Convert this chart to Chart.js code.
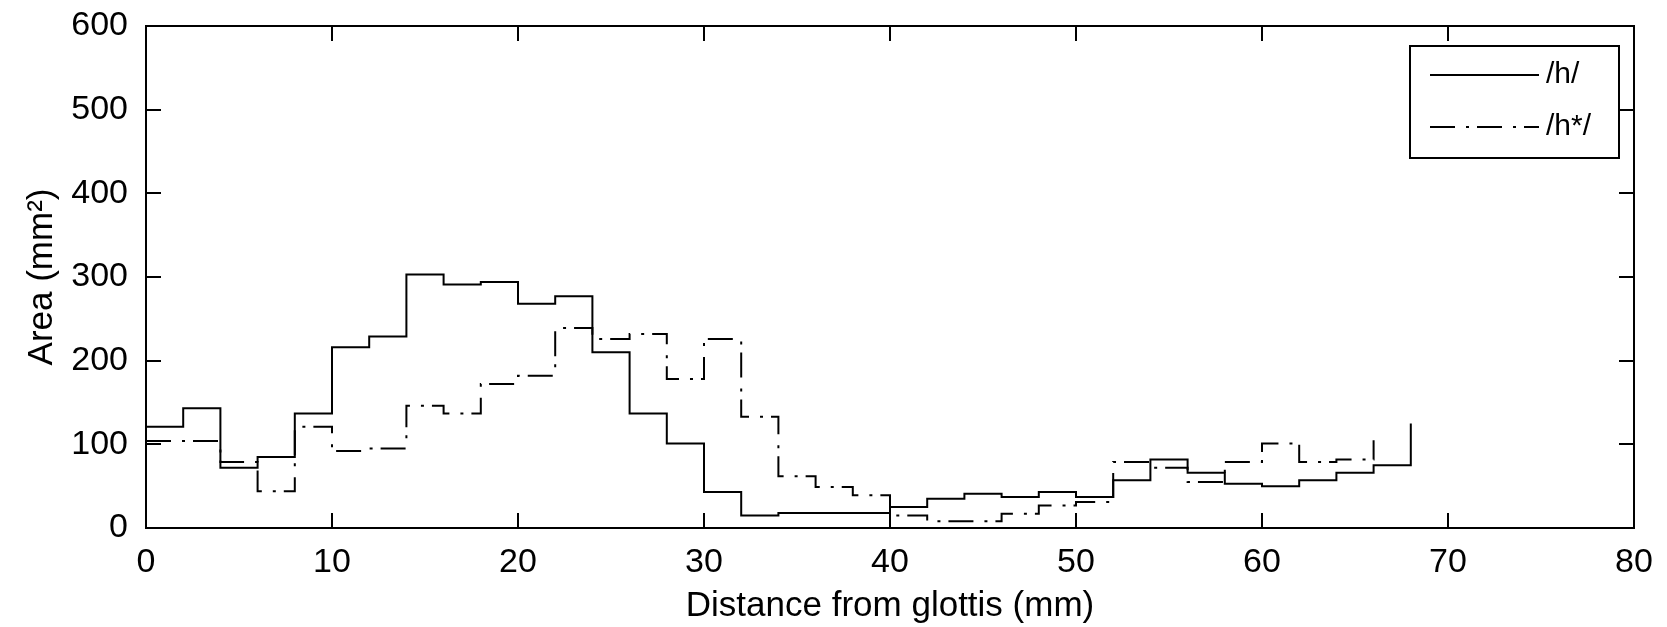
<!DOCTYPE html>
<html>
<head>
<meta charset="utf-8">
<script src="https://cdn.jsdelivr.net/npm/chart.js@4.4.0/dist/chart.umd.min.js"></script>
<style>
  html, body { margin: 0; padding: 0; background: #fff; }
</style>
</head>
<body>
<canvas id="areaChart" width="1667" height="627"></canvas>
<script>
// cross-sectional area along the tract, one value per 2 mm section
const distH = [0, 2, 4, 6, 8, 10, 12, 14, 16, 18, 20, 22, 24, 26, 28, 30, 32, 34,
               36, 38, 40, 42, 44, 46, 48, 50, 52, 54, 56, 58, 60, 62, 64, 66, 68];
const areaH = [121, 143, 72, 85, 137, 216, 229, 303, 291, 294, 268, 277, 210, 137, 101, 43, 15, 18,
               18, 18, 25, 35, 41, 37, 43, 37, 57, 82, 66, 53, 50, 57, 66, 75, 125];

const distHStar = [0, 2, 4, 6, 8, 10, 12, 14, 16, 18, 20, 22, 24, 26, 28, 30, 32, 34,
                   36, 38, 40, 42, 44, 46, 48, 50, 52, 54, 56, 58, 60, 62, 64, 66];
const areaHStar = [104, 104, 79, 44, 121, 92, 95, 146, 137, 172, 182, 239, 226, 232, 178, 226, 133, 62,
                   49, 39, 15, 8, 8, 17, 27, 31, 79, 72, 55, 79, 101, 79, 82, 105];

const xTicks = [0, 10, 20, 30, 40, 50, 60, 70, 80];
const yTicks = [0, 100, 200, 300, 400, 500, 600];

const FONT = '"Liberation Sans", Arial, sans-serif';
const dashDot = [25, 11, 3, 8];

function toPoints(xs, ys) {
  return xs.map((x, i) => ({ x: x, y: ys[i] }));
}

// matlab-style box with inward ticks on all four sides, plus the legend
const framePlugin = {
  id: 'frame',
  afterDraw(chart) {
    const { ctx, chartArea: a, scales: { x, y } } = chart;
    const len = 15;
    ctx.save();
    ctx.strokeStyle = '#000';
    ctx.lineWidth = 2;
    ctx.setLineDash([]);
    ctx.strokeRect(a.left, a.top, a.right - a.left, a.bottom - a.top);

    ctx.beginPath();
    xTicks.forEach(v => {
      const px = Math.round(x.getPixelForValue(v));
      ctx.moveTo(px, a.bottom); ctx.lineTo(px, a.bottom - len);
      ctx.moveTo(px, a.top); ctx.lineTo(px, a.top + len);
    });
    yTicks.forEach(v => {
      const py = Math.round(y.getPixelForValue(v));
      ctx.moveTo(a.left, py); ctx.lineTo(a.left + len, py);
      ctx.moveTo(a.right, py); ctx.lineTo(a.right - len, py);
    });
    ctx.stroke();

    // legend box
    const box = { left: 1410, top: 46, width: 209, height: 112 };
    ctx.fillStyle = '#fff';
    ctx.fillRect(box.left, box.top, box.width, box.height);
    ctx.strokeRect(box.left, box.top, box.width, box.height);

    ctx.font = '30px ' + FONT;
    ctx.textBaseline = 'middle';
    ctx.textAlign = 'left';
    ctx.fillStyle = '#000';
    chart.data.datasets.forEach((ds, i) => {
      const rowY = 75 + i * 52;
      ctx.beginPath();
      ctx.setLineDash(ds.borderDash || []);
      ctx.moveTo(1430, rowY);
      ctx.lineTo(1539, rowY);
      ctx.stroke();
      ctx.setLineDash([]);
      ctx.fillText(ds.label, 1546, rowY);
    });
    ctx.restore();
  }
};

new Chart(document.getElementById('areaChart'), {
  type: 'line',
  data: {
    datasets: [
      {
        label: '/h/',
        data: toPoints(distH, areaH),
        stepped: 'before',
        borderColor: '#000',
        borderWidth: 2,
        pointRadius: 0,
        fill: false
      },
      {
        label: '/h*/',
        data: toPoints(distHStar, areaHStar),
        stepped: 'before',
        borderColor: '#000',
        borderWidth: 2,
        borderDash: dashDot,
        pointRadius: 0,
        fill: false
      }
    ]
  },
  options: {
    responsive: false,
    animation: false,
    layout: { padding: { left: 0, right: 33, top: 26, bottom: 0 } },
    plugins: {
      legend: { display: false },
      tooltip: { enabled: false }
    },
    scales: {
      x: {
        type: 'linear',
        min: 0,
        max: 80,
        afterBuildTicks: s => { s.ticks = xTicks.map(v => ({ value: v })); },
        afterFit: s => { s.height = 99; s.paddingLeft = 0; s.paddingRight = 0; },
        grid: { display: false, drawTicks: false },
        border: { display: false },
        ticks: {
          color: '#000',
          font: { family: FONT, size: 34 },
          padding: 14,
          maxRotation: 0,
          autoSkip: false
        },
        title: {
          display: true,
          text: 'Distance from glottis (mm)',
          color: '#000',
          font: { family: FONT, size: 35 },
          padding: { top: 0, bottom: 0 }
        }
      },
      y: {
        type: 'linear',
        min: 0,
        max: 600,
        afterBuildTicks: s => { s.ticks = yTicks.map(v => ({ value: v })); },
        afterFit: s => { s.width = 146; s.paddingTop = 0; s.paddingBottom = 0; },
        grid: { display: false, drawTicks: false },
        border: { display: false },
        ticks: {
          color: '#000',
          font: { family: FONT, size: 34 },
          padding: 18,
          autoSkip: false
        },
        title: {
          display: true,
          text: 'Area (mm²)',
          color: '#000',
          font: { family: FONT, size: 35 },
          padding: { top: 21, bottom: 0 }
        }
      }
    }
  },
  plugins: [framePlugin]
});
</script>
</body>
</html>
